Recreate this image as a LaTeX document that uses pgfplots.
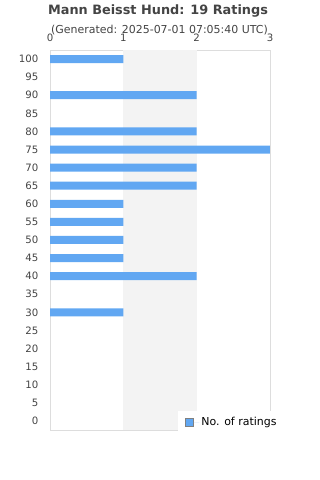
\documentclass[border=0pt]{standalone}
\usepackage{pgfplots}
\pgfplotsset{compat=1.18}
\usepackage{fontspec}
\setmainfont{DejaVu Sans}
\definecolor{barblue}{RGB}{97,167,242}
\definecolor{txt}{RGB}{68,68,68}
\definecolor{gridc}{RGB}{221,221,221}
\definecolor{band}{RGB}{243,243,243}
\pgfplotstableread{
y val
20 1
18 2
16 2
15 3
14 2
13 2
12 1
11 1
10 1
9 1
8 2
6 1
}\ratings
\begin{document}
\begin{tikzpicture}
\path[use as bounding box] (0,0) rectangle (320bp,480bp);
\node[font=\fontsize{12.9}{15}\selectfont\bfseries, text=txt] at (158bp,469bp) {Mann Beisst Hund: 19 Ratings};
\node[font=\fontsize{11}{13}\selectfont, text=txt] at (159.5bp,450bp) {(Generated: 2025-07-01 07:05:40 UTC)};
\begin{axis}[
  at={(50bp,50bp)}, anchor=south west,
  width=220bp, height=380bp, scale only axis,
  xbar, bar width=8bp,
  xmin=0, xmax=3, ymin=-0.5, ymax=20.5,
  xtick={0,1,2,3}, xticklabel pos=top,
  ytick={0,...,20},
  yticklabels={0,5,10,15,20,25,30,35,40,45,50,55,60,65,70,75,80,85,90,95,100},
  tick style={draw=none},
  axis line style={draw=gridc},
  xmajorgrids, grid style={draw=gridc},
  ticklabel style={font=\fontsize{10.2}{12}\selectfont, text=txt},
  /pgf/number format/assume math mode=true,
  xticklabel style={yshift=5bp},
  yticklabel style={xshift=-4bp},
  legend style={at={(0.582,0.021)}, anchor=west, draw=none, fill=white,
    font=\fontsize{11}{13}\selectfont, inner xsep=7bp, inner ysep=4bp},
  legend image code/.code={\draw[fill=barblue,draw=gray] (0bp,-4bp) rectangle (8bp,4bp);
    \path (0bp,0bp) -- (14bp,0bp);},
]
\fill[band] (axis cs:1,-0.5) rectangle (axis cs:2,20.5);
\addplot[fill=barblue, draw=none] table[x=val,y=y] {\ratings};
\addlegendentry{No. of ratings}
\end{axis}
\end{tikzpicture}
\end{document}
